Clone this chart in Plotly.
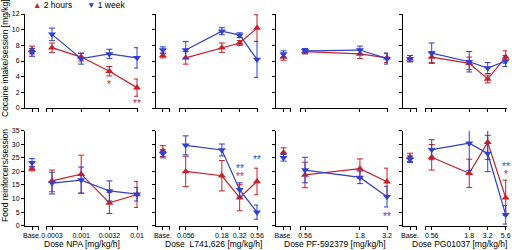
import numpy as np
import plotly.graph_objects as go

W, H = 512, 250
RED = "#c8202a"
BLUE = "#2f3fd0"
FONT = "Liberation Sans, Arial, sans-serif"

# ---------------- data ----------------
drug_names = ["NPA", " L741,626", "PF-592379", "PG01037"]
doses = [
    [0.0003, 0.001, 0.0032, 0.01],
    [0.056, 0.18, 0.32, 0.56],
    [0.56, 1.8, 3.2],
    [0.56, 1.8, 3.2, 5.6],
]
dose_labels = [
    ["0.0003", "0.001", "0.0032", "0.01"],
    ["0.056", "0.18", "0.32", "0.56"],
    ["0.56", "1.8", "3.2"],
    ["0.56", "1.8", "3.2", "5.6"],
]

# Cocaine intake/session [mg/kg]
coc_2h_base = [7.4, 6.7, 6.5, 6.3]
coc_2h_base_err = [0.5, 0.3, 0.4, 0.4]
coc_1w_base = [7.1, 7.4, 6.9, 6.3]
coc_1w_base_err = [0.5, 0.4, 0.4, 0.4]
coc_2h = [[7.7, 6.5, 4.7, 2.6], [6.4, 7.7, 8.3, 10.2], [7.2, 6.9, 6.4], [6.5, 5.7, 3.7, 6.5]]
coc_2h_err = [[0.6, 0.5, 0.6, 1.1], [0.8, 0.6, 0.3, 1.7], [0.3, 0.6, 0.6], [0.7, 0.8, 0.5, 0.8]]
coc_1w = [[9.4, 6.3, 6.9, 6.4], [7.4, 9.8, 9.3, 6.2], [7.3, 7.4, 6.3], [7.0, 5.9, 5.1, 6.0]]
coc_1w_err = [[0.8, 0.7, 0.6, 1.3], [1.1, 0.45, 0.3, 2.3], [0.3, 0.5, 0.7], [1.3, 1.3, 0.7, 0.7]]

# Food reinforcers/session
food_2h_base = [21.0, 27.5, 27.0, 25.2]
food_2h_base_err = [0.8, 2.0, 1.7, 1.5]
food_1w_base = [23.2, 26.5, 25.0, 24.5]
food_1w_base_err = [1.5, 1.5, 1.2, 1.2]
food_2h = [[16.5, 19.0, 8.4, 11.5], [20.0, 18.4, 10.3, 16.3], [18.7, 21.0, 16.2], [25.2, 19.3, 30.7, 10.3]]
food_2h_err = [[4.0, 7.0, 3.9, 4.8], [5.6, 5.6, 4.8, 4.9], [4.7, 3.6, 5.0], [4.7, 5.2, 6.3, 6.5]]
food_1w = [[15.7, 16.8, 12.8, 11.6], [29.6, 27.9, 13.2, 5.0], [20.5, 17.8, 10.7], [28.0, 30.4, 26.6, 4.0]]
food_1w_err = [[4.0, 4.8, 3.7, 2.5], [3.5, 2.2, 2.6, 2.6], [4.7, 2.3, 3.8], [3.7, 10.0, 6.7, 3.4]]

# significance marks (stacked marks share one entry: top line first)
sig_row = [0, 0, 0, 1, 1, 1, 1]
sig_col = [0, 0, 1, 1, 1, 2, 3]
sig_dose = [0.0032, 0.01, 0.56, 0.32, 0.56, 3.2, 5.6]
sig_y = [3.2, 0.8, 12.9, 20.5, 25.2, 4.2, 21.0]
sig_marks = [[("*", "2h")], [("**", "2h")], [("*", "2h")],
             [("**", "1w"), ("**", "2h")], [("**", "1w")], [("**", "1w")],
             [("**", "1w"), ("*", "2h")]]

row_ymax = [12, 35]
row_dtick = [2, 5]
row_titles = ["Cocaine intake/session [mg/kg]", "Food reinforcers/session"]

# ---------------- layout geometry (pixels) ----------------
cols = [
    dict(base=(25, 39), dose=(46, 138), p1=52, p2=137),
    dict(base=(155.7, 170), dose=(179, 258), p1=185.7, p2=257),
    dict(base=(276, 291), dose=(300, 388), p1=305, p2=387),
    dict(base=(403, 417), dose=(425, 507), p1=431.7, p2=505.7),
]
rows = [dict(y0=108, y1=14), dict(y0=225.7, y1=130.7)]
title_x = [82, 213, 335, 459]


def px(v):
    return v / W


def py(v):
    return 1 - v / H


fig = go.Figure()
layout = dict(
    template="none",
    width=W, height=H, margin=dict(l=0, r=0, t=0, b=0, pad=0, autoexpand=False),
    paper_bgcolor="white", plot_bgcolor="white", showlegend=False,
    font=dict(family=FONT, size=8, color="black"),
)
annotations = []

axis_common = dict(showgrid=False, zeroline=False, showline=True, linecolor="black",
                   linewidth=1, ticks="outside", ticklen=3, tickwidth=1, tickcolor="black",
                   fixedrange=True, automargin=False, tickfont=dict(size=7, family=FONT))

idx = 0
for r in range(2):
    ro = rows[r]
    ydom = [py(ro["y0"]), py(ro["y1"])]
    yrange = [0, row_ymax[r]]
    for c in range(4):
        co = cols[c]
        bi = idx + 1
        di = idx + 2
        idx += 2
        bname = "" if bi == 1 else str(bi)
        dname = str(di)

        layout["xaxis" + bname] = dict(axis_common, domain=[px(co["base"][0]), px(co["base"][1])],
                                       range=[-1, 1], anchor="y" + bname,
                                       tickvals=[0, 0.995], ticktext=["Base.", ""],
                                       showticklabels=(r == 1))
        layout["yaxis" + bname] = dict(axis_common, domain=ydom, range=yrange, anchor="x" + bname,
                                       dtick=row_dtick[r], tick0=0, showticklabels=(c == 0))
        d = doses[c]
        l1, l2 = np.log10(d[0]), np.log10(d[-1])
        k = (co["p2"] - co["p1"]) / (l2 - l1)
        xr = [l1 - (co["p1"] - co["dose"][0]) / k, l2 + (co["dose"][1] - co["p2"]) / k]
        layout["xaxis" + dname] = dict(axis_common, type="log", domain=[px(co["dose"][0]), px(co["dose"][1])],
                                       range=xr, anchor="y" + dname,
                                       tickvals=[10 ** (xr[0] + 0.002)] + d, ticktext=[""] + dose_labels[c],
                                       showticklabels=(r == 1))
        layout["yaxis" + dname] = dict(domain=ydom, range=yrange, anchor="x" + dname,
                                       visible=False, fixedrange=True, automargin=False)

        if r == 0:
            series = [(coc_2h_base[c], coc_2h_base_err[c], coc_2h[c], coc_2h_err[c], RED, "triangle-up"),
                      (coc_1w_base[c], coc_1w_base_err[c], coc_1w[c], coc_1w_err[c], BLUE, "triangle-down")]
        else:
            series = [(food_2h_base[c], food_2h_base_err[c], food_2h[c], food_2h_err[c], RED, "triangle-up"),
                      (food_1w_base[c], food_1w_base_err[c], food_1w[c], food_1w_err[c], BLUE, "triangle-down")]
        for bv, be, vals, errs, col, sym in series:
            fig.add_trace(go.Scatter(
                x=[0], y=[bv], xaxis="x" + bname, yaxis="y" + bname, mode="markers",
                marker=dict(symbol=sym, size=7, color=col, line=dict(width=0)),
                error_y=dict(type="data", array=[be], color=col, thickness=1, width=3),
                cliponaxis=False, hoverinfo="skip"))
            fig.add_trace(go.Scatter(
                x=d, y=vals, xaxis="x" + dname, yaxis="y" + dname, mode="lines+markers",
                line=dict(color=col, width=1.2),
                marker=dict(symbol=sym, size=7, color=col, line=dict(width=0)),
                error_y=dict(type="data", array=errs, color=col, thickness=1, width=3),
                cliponaxis=False, hoverinfo="skip"))

        if r == 1:
            annotations.append(dict(x=px(title_x[c]), y=py(244), xref="paper", yref="paper",
                                    text="Dose " + drug_names[c] + " [mg/kg/h]", showarrow=False,
                                    font=dict(size=8.5, family=FONT), xanchor="center", yanchor="middle"))

# significance marks; stacked lines use a small line height with larger glyphs
for i in range(len(sig_marks)):
    r, c = sig_row[i], sig_col[i]
    di = 2 * (4 * r + c) + 2
    lines = ['<span style="color:%s;font-size:10px">%s</span>' % (RED if s == "2h" else BLUE, t)
             for t, s in sig_marks[i]]
    annotations.append(dict(x=np.log10(sig_dose[i]), y=sig_y[i], xref="x" + str(di), yref="y" + str(di),
                            text="<br>".join(lines), showarrow=False, yshift=-2,
                            xanchor="center", yanchor="middle",
                            font=dict(size=6.2 if len(lines) > 1 else 10, family=FONT)))

annotations.append(dict(x=px(5), y=py(58), xref="paper", yref="paper", text=row_titles[0],
                        textangle=-90, showarrow=False, xanchor="center", yanchor="middle",
                        font=dict(size=8.5, family=FONT)))
annotations.append(dict(x=px(5), y=py(176), xref="paper", yref="paper", text=row_titles[1],
                        textangle=-90, showarrow=False, xanchor="center", yanchor="middle",
                        font=dict(size=8.5, family=FONT)))

annotations.append(dict(x=px(31), y=py(4.5), xref="paper", yref="paper", xanchor="left",
                        yanchor="middle",
                        text='<span style="color:%s">▲</span> 2 hours' % RED, showarrow=False,
                        font=dict(size=8.5, family=FONT)))
annotations.append(dict(x=px(85), y=py(4.5), xref="paper", yref="paper", xanchor="left",
                        yanchor="middle",
                        text='<span style="color:%s">▼</span> 1 week' % BLUE, showarrow=False,
                        font=dict(size=8.5, family=FONT)))

layout["annotations"] = annotations
fig.update_layout(**layout)
fig.write_html("out.html", config={"displayModeBar": False},
               post_script="document.body.style.margin='0px';")
